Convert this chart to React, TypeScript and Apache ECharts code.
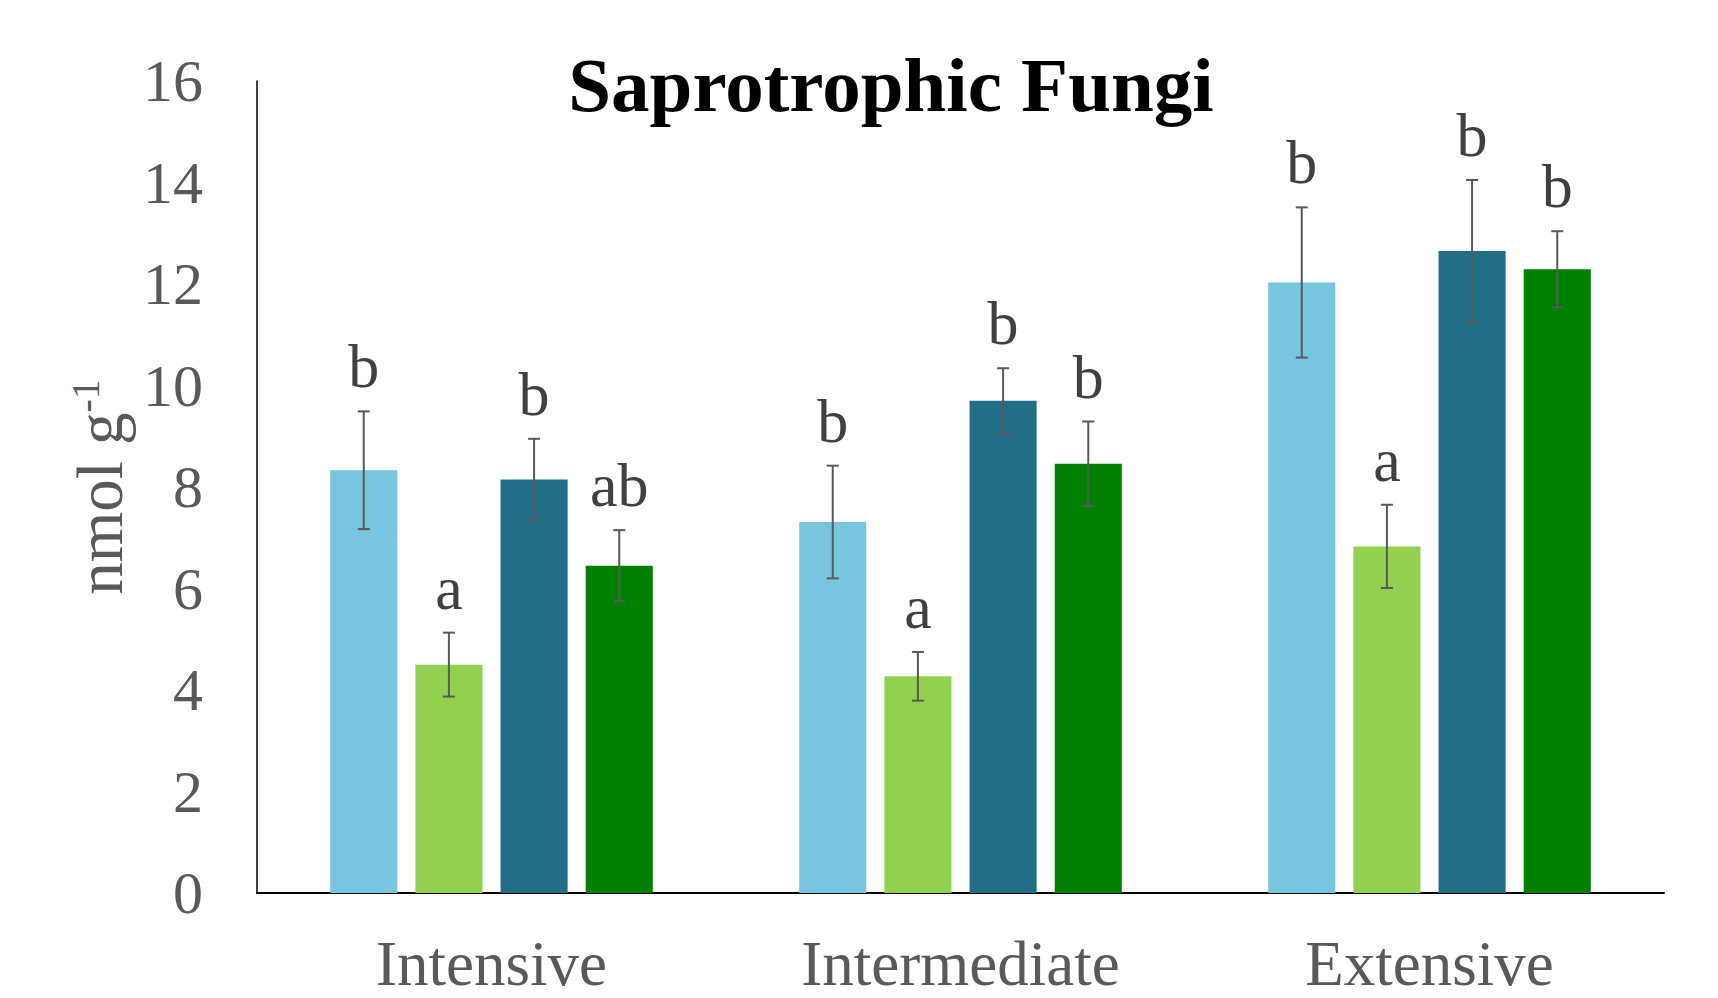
import React, { useEffect, useRef } from "react";
import * as echarts from "echarts";

const categories = ["Intensive", "Intermediate", "Extensive"];
const seriesNames = ["Group 1", "Group 2", "Group 3", "Group 4"];
const seriesColors = ["#77C5DE", "#92D050", "#236E87", "#008000"];
const values1 = [8.33, 7.31, 12.03];
const values2 = [4.5, 4.27, 6.83];
const values3 = [8.15, 9.7, 12.65];
const values4 = [6.45, 8.46, 12.29];
const errors1 = [1.16, 1.11, 1.48];
const errors2 = [0.63, 0.48, 0.82];
const errors3 = [0.8, 0.64, 1.4];
const errors4 = [0.7, 0.83, 0.75];
const letters1 = ["b", "b", "b"];
const letters2 = ["a", "a", "a"];
const letters3 = ["b", "b", "b"];
const letters4 = ["ab", "b", "b"];
const yTicks = [0, 2, 4, 6, 8, 10, 12, 14, 16];

const allValues = [values1, values2, values3, values4];
const allErrors = [errors1, errors2, errors3, errors4];
const allLetters = [letters1, letters2, letters3, letters4];

const BAR_FRAC = 0.143;
const GAP_FRAC = 0.27;
const FONT = "'Liberation Serif', 'Times New Roman', serif";

export default function App() {
  const ref = useRef<HTMLDivElement>(null);
  useEffect(() => {
    if (!ref.current) return;
    const chart = echarts.init(ref.current, undefined, { renderer: "svg" });

    const barSeries = allValues.map((vals, i) => ({
      name: seriesNames[i],
      type: "bar",
      data: vals,
      barWidth: (BAR_FRAC * 100).toFixed(1) + "%",
      barGap: (GAP_FRAC * 100).toFixed(0) + "%",
      itemStyle: { color: seriesColors[i] },
      z: 2,
    }));

    const customSeries = allValues.map((vals, i) => ({
      type: "custom",
      name: seriesNames[i] + " error",
      z: 5,
      data: vals.map((v, j) => [j, v, allErrors[i][j]]),
      renderItem: (params: any, api: any) => {
        const cat = api.value(0);
        const v = api.value(1);
        const e = api.value(2);
        const letter = allLetters[i][cat];
        const catW = api.size([1, 0])[0];
        const bw = catW * BAR_FRAC;
        const step = bw * (1 + GAP_FRAC);
        const center = api.coord([cat, 0]);
        const x = center[0] + (i - 1.5) * step;
        const yTop = api.coord([cat, v + e])[1];
        const yBot = api.coord([cat, v - e])[1];
        const cap = 6;
        const ls = { stroke: "#595959", lineWidth: 2 };
        return {
          type: "group",
          children: [
            { type: "line", shape: { x1: x, y1: yTop, x2: x, y2: yBot }, style: ls },
            { type: "line", shape: { x1: x - cap, y1: yTop, x2: x + cap, y2: yTop }, style: ls },
            { type: "line", shape: { x1: x - cap, y1: yBot, x2: x + cap, y2: yBot }, style: ls },
            {
              type: "text",
              x: x,
              y: yTop - 14,
              style: {
                text: letter,
                fill: "#404040",
                font: "62px " + FONT,
                textAlign: "center",
                textVerticalAlign: "bottom",
              },
            },
          ],
        };
      },
    }));

    chart.setOption({
      animation: false,
      title: {
        text: "Saprotrophic Fungi",
        left: 886,
        top: 41,
        textAlign: "center",
        textStyle: {
          fontFamily: FONT,
          fontWeight: "bold",
          fontSize: 77,
          color: "#000000",
        },
      },
      grid: { left: 257, top: 81, right: 54, bottom: 105 },
      xAxis: {
        type: "category",
        data: categories,
        axisLine: { lineStyle: { color: "#000000", width: 2 } },
        axisTick: { show: false },
        axisLabel: {
          fontFamily: FONT,
          fontSize: 63,
          color: "#595959",
          margin: 39,
        },
      },
      yAxis: {
        type: "value",
        min: 0,
        max: 16,
        interval: 2,
        splitLine: { show: false },
        axisLine: { show: true, lineStyle: { color: "#000000", width: 1.5 } },
        axisTick: { show: false },
        axisLabel: {
          fontFamily: FONT,
          fontSize: 60,
          color: "#595959",
          margin: 54,
          formatter: (v: number) => (yTicks.includes(v) ? String(v) : ""),
        },
        name: "nmol g{sup|-1}",
        nameLocation: "middle",
        nameRotate: 90,
        nameGap: 122,
        nameTextStyle: {
          fontFamily: FONT,
          fontSize: 65,
          color: "#595959",
          rich: {
            sup: {
              fontFamily: FONT,
              fontSize: 40,
              color: "#595959",
              verticalAlign: "top",
              padding: [0, 0, 28, 0],
            },
          },
        },
      },
      series: [...barSeries, ...customSeries],
    });
    return () => chart.dispose();
  }, []);
  return (
    <div
      ref={ref}
      style={{ position: "fixed", left: 0, top: 0, width: 1718, height: 998, background: "#ffffff" }}
    />
  );
}
